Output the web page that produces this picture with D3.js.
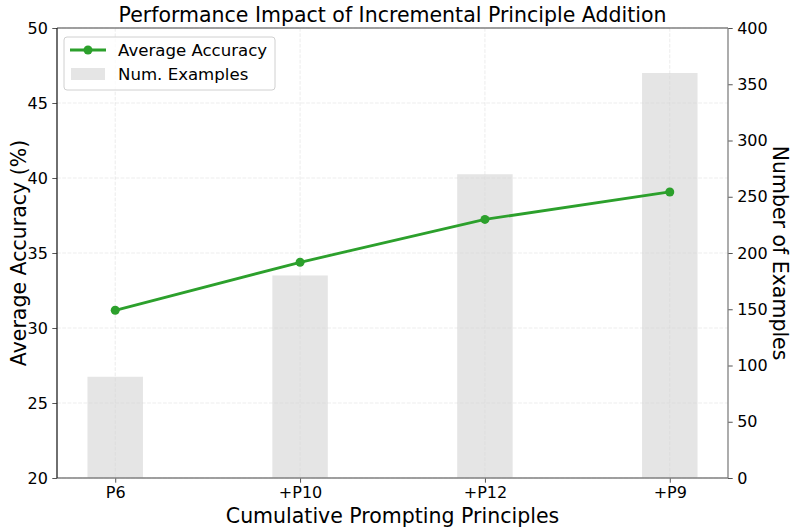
<!DOCTYPE html>
<html>
<head>
<meta charset="utf-8">
<script src="https://cdn.jsdelivr.net/npm/d3@7"></script>
<style>
  body { margin: 0; background: #fff; }
  text { font-family: "DejaVu Sans", sans-serif; fill: #000; }
</style>
</head>
<body>
<div id="chart"></div>
<script>
// data
const principles = ["P6", "+P10", "+P12", "+P9"];
const accuracy = [31.18, 34.38, 37.24, 39.07];
const numExamples = [90, 180, 270, 360];
const accTicks = [20, 25, 30, 35, 40, 45, 50];
const exTicks = [0, 50, 100, 150, 200, 250, 300, 350, 400];

(function(){
    const svgWidth = 798, svgHeight = 531;
    const margin = { top: 28, right: 70, bottom: 53, left: 57 };
    const width = 728 - margin.left;
    const height = 478 - margin.top;

    const svg = d3.select("#chart").append("svg")
        .attr("width", svgWidth)
        .attr("height", svgHeight);

    const g = svg.append("g")
        .attr("transform", `translate(${margin.left}, ${margin.top})`);

    // categorical positions like matplotlib: index with margins
    const xScale = d3.scaleLinear().domain([-0.315, 3.315]).range([0, width]);
    const yLeft = d3.scaleLinear().domain([20, 50]).range([height, 0]);
    const yRight = d3.scaleLinear().domain([0, 400]).range([height, 0]);
    const barW = xScale(0.3) - xScale(0);

    // grid
    g.append("g").selectAll("line").data(accTicks).enter().append("line")
        .attr("x1", 0).attr("x2", width)
        .attr("y1", d => yLeft(d)).attr("y2", d => yLeft(d))
        .attr("stroke", "#b0b0b0").attr("stroke-opacity", 0.3)
        .attr("stroke-dasharray", "3.7,1.6").attr("stroke-width", 0.8);
    g.append("g").selectAll("line").data(principles).enter().append("line")
        .attr("x1", (d, i) => xScale(i)).attr("x2", (d, i) => xScale(i))
        .attr("y1", 0).attr("y2", height)
        .attr("stroke", "#b0b0b0").attr("stroke-opacity", 0.3)
        .attr("stroke-dasharray", "3.7,1.6").attr("stroke-width", 0.8);

    // bars
    g.append("g").selectAll("rect").data(numExamples).enter().append("rect")
        .attr("x", (d, i) => xScale(i) - barW / 2)
        .attr("width", barW)
        .attr("y", d => yRight(d))
        .attr("height", d => height - yRight(d))
        .attr("fill", "#d3d3d3").attr("fill-opacity", 0.6);

    // line
    const line = d3.line()
        .x((d, i) => xScale(i))
        .y(d => yLeft(d));
    g.append("path").datum(accuracy)
        .attr("d", line)
        .attr("fill", "none")
        .attr("stroke", "#2ca02c")
        .attr("stroke-width", 2.8);
    g.append("g").selectAll("circle").data(accuracy).enter().append("circle")
        .attr("cx", (d, i) => xScale(i))
        .attr("cy", d => yLeft(d))
        .attr("r", 4.5)
        .attr("fill", "#2ca02c");

    // axes
    const bottomAxis = d3.axisBottom(xScale)
        .tickValues(d3.range(principles.length))
        .tickFormat(i => principles[i])
        .tickSizeOuter(0).tickSize(4.7).tickPadding(3.5);
    const leftAxis = d3.axisLeft(yLeft).tickValues(accTicks)
        .tickSizeOuter(0).tickSize(4.7).tickPadding(4.5);
    const rightAxis = d3.axisRight(yRight).tickValues(exTicks)
        .tickSizeOuter(0).tickSize(4.7).tickPadding(4.5);

    const bx = g.append("g").attr("transform", `translate(0, ${height})`).call(bottomAxis);
    const lx = g.append("g").call(leftAxis);
    const rx = g.append("g").attr("transform", `translate(${width}, 0)`).call(rightAxis);
    [bx, lx, rx].forEach(a => {
        a.select(".domain").remove();
        a.selectAll("text").attr("font-size", 16).attr("fill", "#000");
        a.selectAll(".tick line").attr("stroke", "#555").attr("stroke-width", 1);
    });

    // spines
    g.append("line").attr("x1", 0).attr("x2", width).attr("y1", 0).attr("y2", 0)
        .attr("stroke", "#808080").attr("stroke-width", 1.3);
    g.append("line").attr("x1", width).attr("x2", width).attr("y1", 0).attr("y2", height)
        .attr("stroke", "#808080").attr("stroke-width", 1.3);
    g.append("line").attr("x1", 0).attr("x2", width).attr("y1", height).attr("y2", height)
        .attr("stroke", "#808080").attr("stroke-width", 1.3);
    g.append("line").attr("x1", 0).attr("x2", 0).attr("y1", 0).attr("y2", height)
        .attr("stroke", "#222").attr("stroke-width", 1.3);

    // titles
    svg.append("text")
        .attr("x", margin.left + width / 2).attr("y", 22)
        .attr("text-anchor", "middle").attr("font-size", 20.5)
        .text("Performance Impact of Incremental Principle Addition");
    svg.append("text")
        .attr("x", margin.left + width / 2).attr("y", 523)
        .attr("text-anchor", "middle").attr("font-size", 20.5)
        .text("Cumulative Prompting Principles");
    svg.append("text")
        .attr("transform", `translate(26, ${margin.top + height / 2}) rotate(-90)`)
        .attr("text-anchor", "middle").attr("font-size", 20.5)
        .text("Average Accuracy (%)");
    svg.append("text")
        .attr("transform", `translate(773, ${margin.top + height / 2}) rotate(90)`)
        .attr("text-anchor", "middle").attr("font-size", 20.5)
        .text("Number of Examples");

    // legend
    const lg = svg.append("g").attr("transform", "translate(64, 37)");
    lg.append("rect").attr("width", 211).attr("height", 53).attr("rx", 3)
        .attr("fill", "#fff").attr("fill-opacity", 0.8)
        .attr("stroke", "#d0d0d0").attr("stroke-width", 1);
    lg.append("line").attr("x1", 6).attr("x2", 42).attr("y1", 13).attr("y2", 13)
        .attr("stroke", "#2ca02c").attr("stroke-width", 2.8);
    lg.append("circle").attr("cx", 24).attr("cy", 13).attr("r", 4.5).attr("fill", "#2ca02c");
    lg.append("rect").attr("x", 7).attr("y", 31).attr("width", 34).attr("height", 12)
        .attr("fill", "#d3d3d3").attr("fill-opacity", 0.6);
    lg.append("text").attr("x", 54).attr("y", 19).attr("font-size", 16.6).text("Average Accuracy");
    lg.append("text").attr("x", 54).attr("y", 43).attr("font-size", 16.6).text("Num. Examples");
})();
</script>
</body>
</html>
